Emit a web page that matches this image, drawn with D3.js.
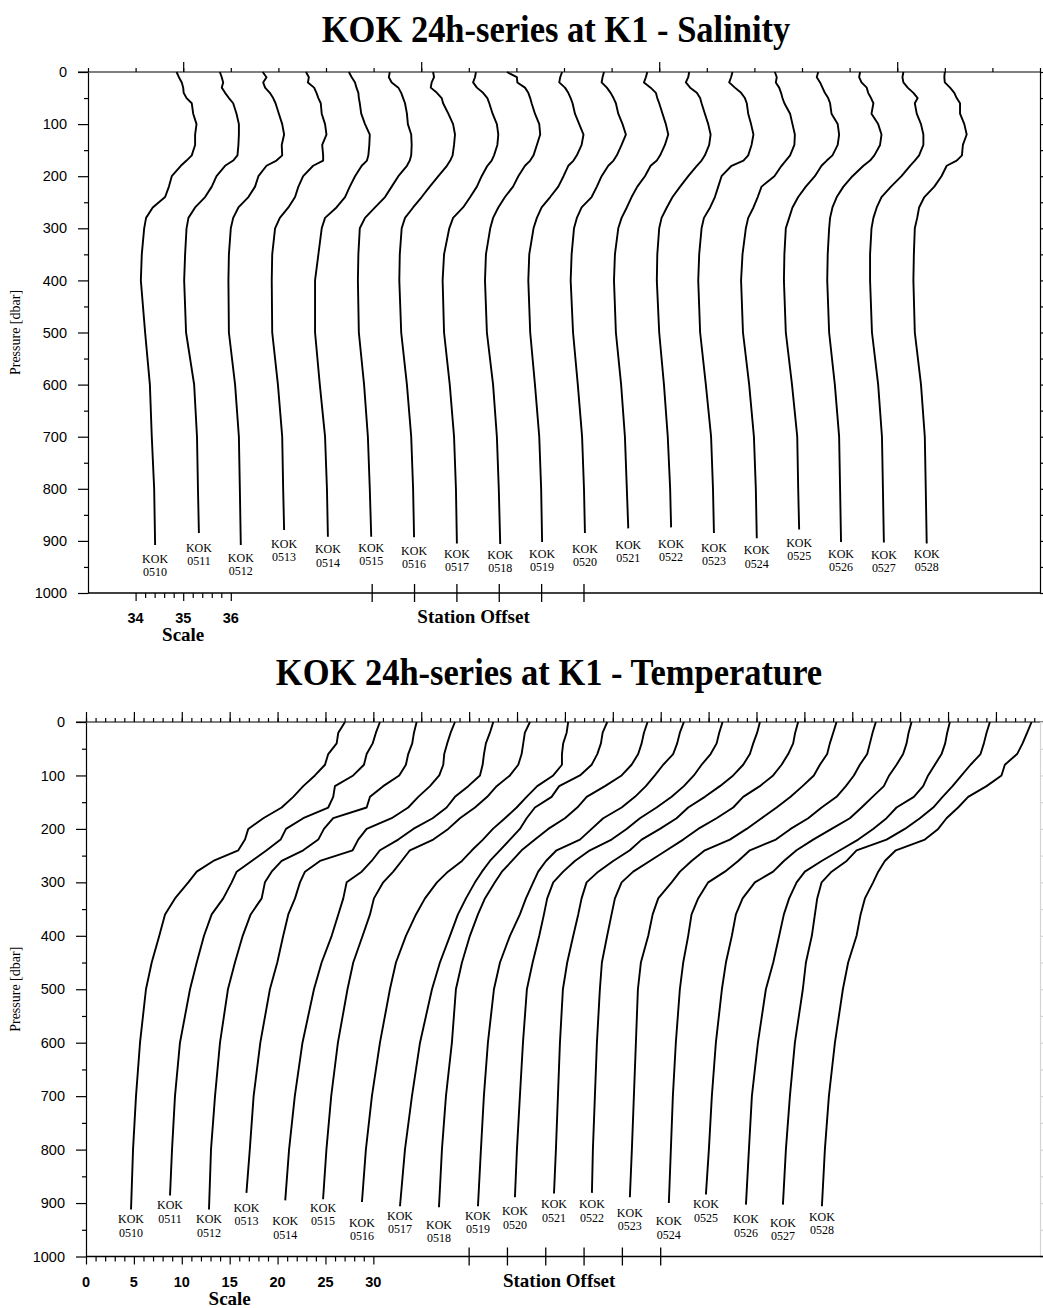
<!DOCTYPE html>
<html>
<head>
<meta charset="utf-8">
<script src="https://cdn.jsdelivr.net/npm/d3@7"></script>
<style>
  body { margin: 0; background: #fff; }
  svg { display: block; }
</style>
</head>
<body>
<svg id="fig" width="1043" height="1308"></svg>
<script>
// ---- stations of the 24h series at K1 ----
const stations = ["0510","0511","0512","0513","0514","0515","0516","0517","0518","0519",
                  "0520","0521","0522","0523","0524","0525","0526","0527","0528"];

// ---- salinity profiles (PSU); last value of each row is at that station's bottom pressure ----
const salPressure = [0,10,20,30,40,50,60,80,100,120,140,160,170,180,200,220,240,260,280,300,350,400,500,600,700,800];
const salBottom = [908,885,908,879,892,892,893,905,906,902,885,876,874,885,895,878,902,903,905];
const salinity = [
  [34.86,34.91,34.97,35.00,35.01,35.07,35.18,35.21,35.28,35.25,35.25,35.18,35.07,34.95,34.76,34.70,34.62,34.36,34.22,34.18,34.13,34.11,34.20,34.30,34.34,34.39,34.41],
  [34.87,34.91,34.94,34.91,34.98,35.06,35.15,35.22,35.27,35.27,35.26,35.24,35.15,34.98,34.80,34.70,34.56,34.35,34.21,34.17,34.14,34.12,34.16,34.33,34.39,34.41,34.43],
  [34.87,34.95,34.88,34.92,35.02,35.09,35.14,35.21,35.28,35.32,35.27,35.28,35.16,34.95,34.78,34.71,34.57,34.36,34.25,34.20,34.16,34.15,34.16,34.29,34.37,34.39,34.41],
  [34.88,34.94,34.92,35.05,35.10,35.14,35.19,35.21,35.28,35.31,35.22,35.24,35.24,35.03,34.82,34.72,34.65,34.51,34.33,34.23,34.17,34.16,34.17,34.29,34.38,34.40,34.42],
  [34.88,34.94,35.01,35.04,35.08,35.09,35.11,35.14,35.22,35.32,35.31,35.29,35.26,35.15,35.01,34.90,34.80,34.62,34.38,34.31,34.24,34.17,34.17,34.27,34.38,34.42,34.44],
  [34.84,34.82,34.88,35.02,35.08,35.12,35.16,35.20,35.22,35.29,35.30,35.29,35.26,35.20,35.02,34.88,34.74,34.53,34.32,34.21,34.18,34.17,34.19,34.30,34.38,34.42,34.45],
  [34.85,34.87,34.82,34.80,34.93,35.03,35.06,35.17,35.27,35.31,35.29,35.26,35.21,35.14,34.96,34.78,34.61,34.43,34.26,34.19,34.15,34.14,34.18,34.30,34.39,34.43,34.45],
  [34.85,34.83,34.79,34.87,35.00,35.09,35.13,35.20,35.29,35.32,35.30,35.23,35.18,35.09,34.97,34.87,34.73,34.58,34.37,34.29,34.18,34.15,34.18,34.30,34.39,34.43,34.45],
  [34.60,34.81,34.82,34.98,35.05,35.09,35.12,35.19,35.28,35.30,35.23,35.16,35.09,34.98,34.84,34.73,34.56,34.42,34.31,34.25,34.16,34.14,34.18,34.31,34.39,34.43,34.46],
  [34.86,34.82,34.80,34.92,34.99,35.04,35.08,35.13,35.22,35.31,35.27,35.17,35.10,34.99,34.89,34.78,34.61,34.43,34.33,34.26,34.17,34.15,34.19,34.29,34.38,34.42,34.44],
  [34.84,34.81,34.79,34.90,34.98,35.04,35.09,35.14,35.23,35.30,35.21,35.11,35.04,34.93,34.79,34.69,34.58,34.37,34.27,34.21,34.16,34.14,34.19,34.29,34.38,34.42,34.44],
  [34.85,34.82,34.78,34.92,35.03,35.06,35.10,35.17,35.24,35.29,35.22,35.12,35.05,34.92,34.80,34.64,34.52,34.42,34.31,34.24,34.17,34.15,34.19,34.30,34.38,34.42,34.45],
  [34.83,34.81,34.76,34.85,34.99,35.06,35.09,35.16,35.23,35.28,35.25,35.16,35.09,34.99,34.81,34.64,34.48,34.36,34.25,34.20,34.16,34.15,34.20,34.30,34.38,34.43,34.45],
  [34.84,34.81,34.77,34.89,35.02,35.10,35.14,35.17,35.23,35.28,35.24,35.17,35.07,34.82,34.61,34.54,34.47,34.37,34.24,34.19,34.14,34.12,34.16,34.28,34.39,34.43,34.45],
  [34.83,34.87,34.85,34.92,34.96,34.99,35.03,35.15,35.20,35.25,35.24,35.15,35.06,34.97,34.82,34.55,34.47,34.38,34.27,34.22,34.15,34.12,34.16,34.29,34.39,34.43,34.45],
  [34.84,34.81,34.88,34.93,34.98,35.05,35.09,35.12,35.25,35.28,35.25,35.14,35.02,34.91,34.77,34.58,34.42,34.30,34.23,34.16,34.13,34.12,34.16,34.29,34.40,34.42,34.44],
  [34.82,34.80,34.85,34.96,34.99,35.05,35.10,35.06,35.20,35.27,35.24,35.12,35.03,34.89,34.66,34.47,34.33,34.24,34.19,34.17,34.14,34.13,34.17,34.29,34.38,34.40,34.42],
  [34.83,34.81,34.83,34.92,35.04,35.13,35.07,35.11,35.20,35.25,35.25,35.16,35.07,34.97,34.79,34.57,34.37,34.27,34.20,34.16,34.13,34.13,34.17,34.30,34.38,34.40,34.42],
  [34.80,34.79,34.80,34.91,35.00,35.05,35.12,35.12,35.21,35.26,35.18,35.16,35.05,34.84,34.73,34.58,34.37,34.26,34.22,34.17,34.15,34.14,34.17,34.30,34.38,34.40,34.42]
];
const salStationOffset = 0.9;            // PSU added per successive station
const salScaleLabels = [34, 35, 36];
const salScaleMinor = [34.2,34.4,34.6,34.8,35.2,35.4,35.6,35.8];
const salOffsetTicks = [38.97, 39.86, 40.75, 41.64, 42.53, 43.42];
const salLabelDepth = [943,921,940,914,924,921,927,933,935,933,923,916,914,921,926,912,933,935,933];

// ---- temperature profiles (deg C); last value of each row is at that station's bottom pressure ----
const tempPressure = [0,20,40,60,80,100,120,140,160,180,200,220,240,260,280,300,330,360,400,450,500,600,700,800];
const tempBottom = [912,886,912,881,895,893,898,906,908,906,889,882,881,889,900,884,903,903,906];
const temperature = [
  [27.04,26.34,26.17,25.29,24.95,23.90,22.68,21.64,20.43,18.51,16.94,16.60,15.90,13.29,11.56,10.68,9.29,8.25,7.65,6.86,6.26,5.64,5.22,4.91,4.70],
  [26.69,26.27,25.93,25.30,25.02,23.90,21.99,21.81,21.29,18.68,16.88,16.32,14.86,13.30,11.73,11.21,10.33,9.12,8.32,7.56,6.86,5.81,5.29,4.98,4.77],
  [26.52,26.24,26.06,25.64,25.40,24.70,23.03,21.65,21.30,17.81,16.84,16.25,14.68,12.43,11.38,10.68,10.34,9.19,8.36,7.55,6.82,5.99,5.47,5.05,4.84],
  [26.52,26.07,25.71,25.40,25.30,24.88,23.91,22.69,21.64,19.91,17.30,16.42,15.84,12.43,10.86,10.34,9.82,9.12,8.59,7.97,7.20,6.20,5.50,5.10,4.75],
  [26.52,26.17,25.75,25.55,25.41,25.13,23.91,22.52,21.65,20.19,18.17,16.60,14.69,13.82,12.78,11.21,10.86,10.34,9.65,8.60,7.80,6.60,5.80,5.20,4.80],
  [26.35,25.82,25.65,25.48,25.13,24.26,22.87,21.89,20.61,19.04,17.82,16.25,13.82,12.95,12.08,11.03,10.06,9.65,8.88,7.90,7.30,6.30,5.60,5.10,4.75],
  [26.34,26.18,25.82,25.69,25.69,24.78,23.11,22.00,20.96,19.74,18.48,17.44,16.29,15.25,13.79,12.64,11.39,10.45,9.40,8.36,7.73,6.69,5.85,5.22,4.81],
  [26.42,25.94,25.76,25.38,24.79,23.57,21.40,20.61,18.87,18.00,17.30,16.26,15.21,14.17,13.34,12.61,11.67,10.83,10.00,8.95,8.12,6.87,6.03,5.30,4.78],
  [26.63,26.25,26.01,25.65,24.96,23.92,22.18,20.27,19.29,18.00,16.26,14.87,13.48,12.47,11.42,10.69,9.65,8.92,8.08,7.25,6.62,6.20,5.58,5.16,4.85],
  [26.42,26.00,25.72,25.30,24.26,23.39,22.45,21.31,19.92,18.00,16.79,15.57,13.13,12.02,11.21,10.69,9.93,9.30,8.26,7.22,6.59,5.96,5.54,5.23,4.92],
  [26.46,26.11,25.84,25.21,24.27,23.46,22.42,21.14,19.57,17.83,16.44,14.87,12.61,11.04,9.82,8.78,8.15,7.81,7.32,6.63,6.03,5.62,5.30,4.99,4.78],
  [26.36,26.07,25.66,25.31,24.61,23.57,22.18,20.61,18.87,17.66,15.92,14.01,12.78,11.04,9.48,8.26,7.74,7.39,6.87,6.24,5.79,5.48,5.27,5.06,4.86],
  [26.35,26.04,25.83,25.31,24.62,23.74,22.35,20.61,19.57,17.83,15.91,14.35,12.62,10.87,9.13,7.92,7.22,6.87,6.41,5.86,5.65,5.34,5.13,4.92,4.82],
  [26.36,26.01,25.66,25.38,24.62,23.99,22.81,21.56,20.10,18.53,16.97,15.22,12.61,11.22,10.01,9.14,7.74,7.16,6.70,5.93,5.62,5.41,5.20,4.99,4.78],
  [26.46,26.12,25.84,25.56,24.79,24.17,23.33,22.36,20.80,19.40,17.56,16.02,13.31,12.09,10.70,8.96,7.91,7.22,6.87,6.35,6.00,5.58,5.27,5.06,4.85],
  [26.19,25.88,25.67,25.31,24.62,23.85,23.30,22.12,20.97,19.75,17.84,15.92,14.18,12.86,11.74,9.83,8.55,7.85,7.43,6.81,6.39,5.76,5.34,5.03,4.72],
  [26.19,25.91,25.70,25.32,24.62,23.92,23.40,22.43,20.62,19.58,18.18,16.62,14.71,12.80,11.05,10.19,9.41,8.86,8.37,7.75,6.98,6.15,5.52,5.21,4.90],
  [26.37,26.02,25.74,25.39,24.35,23.41,22.47,21.43,20.45,19.06,17.49,15.58,12.45,11.41,9.84,8.80,8.34,8.10,7.78,7.16,6.84,6.01,5.49,5.07,4.76],
  [26.72,26.26,25.78,25.21,23.93,23.58,22.02,20.10,19.05,17.84,16.97,15.58,12.55,11.40,10.71,10.18,9.32,8.87,8.45,7.57,7.02,6.19,5.56,5.14,4.83]
];
const tempStationOffset = 4;             // deg C added per successive station
const tempScaleLabels = [0, 5, 10, 15, 20, 25, 30];
const tempScaleMinor = [1,2,3,4,6,7,8,9,11,12,13,14,16,17,18,19,21,22,23,24,26,27,28,29];
const tempOffsetTicks = [40, 44, 48, 52, 56, 60];
const tempLabelDepth = [938,912,938,917,942,917,945,931,948,931,923,910,910,926,942,910,938,945,933];

const pressureTicks = [0,100,200,300,400,500,600,700,800,900,1000];
const pressureMinor = [50,150,250,350,450,550,650,750,850,950];

// ---------------------------------------------------------------------------
const svg = d3.select("#fig");
const SERIF = "'Liberation Serif','Times New Roman',serif";
const SANS = "'Liberation Sans',Arial,sans-serif";

function text(g, x, y, str, o) {
  o = o || {};
  return g.append("text")
    .attr("transform", `translate(${x},${y})${o.rotate ? ` rotate(${o.rotate})` : ""} scale(1,${o.sy || 1})`)
    .attr("text-anchor", o.anchor || "middle")
    .attr("font-family", o.family || SERIF)
    .attr("font-size", o.size || 12)
    .attr("font-weight", o.weight || "normal")
    .attr("fill", "#000")
    .text(str);
}

// two-line station label: "KOK" over the station number
function stationLabel(g, x, y, num) {
  const t = g.append("text")
    .attr("transform", `translate(${x},${y}) scale(1,1.1)`)
    .attr("text-anchor", "middle")
    .attr("font-family", SERIF)
    .attr("font-size", 12)
    .attr("fill", "#000");
  t.append("tspan").attr("x", 0).attr("y", 0).text("KOK");
  t.append("tspan").attr("x", 0).attr("dy", 12).text(num);
}

function drawPanel(cfg) {
  const g = svg.append("g");
  const x = d3.scaleLinear().domain(cfg.xDomain).range([cfg.left, cfg.right]);
  const y = d3.scaleLinear().domain([0, 1000]).range([cfg.top, cfg.bottom]);

  // title
  text(g, cfg.titleX, cfg.titleY, cfg.title, { size: 34.5, weight: "bold", sy: 1.08 });

  // top axis: unit ticks, taller every fifth unit
  const topG = g.append("g").attr("transform", `translate(0,${cfg.top})`);
  topG.call(d3.axisTop(x).tickValues(cfg.topMinor).tickSize(cfg.topMinorLen).tickSizeOuter(0).tickFormat(""));
  topG.append("g").call(d3.axisTop(x).tickValues(cfg.topMajor).tickSize(10).tickSizeOuter(0).tickFormat(""))
      .select(".domain").remove();
  topG.select(".domain").attr("d", `M${cfg.left - 10},0H${cfg.topEnd}`);

  // left pressure axis
  const leftG = g.append("g").attr("transform", `translate(${cfg.left},0)`)
    .call(d3.axisLeft(y).tickValues(pressureTicks).tickSize(10).tickPadding(11).tickSizeOuter(0)
            .tickFormat(d3.format("d")));
  leftG.selectAll("text").attr("font-family", SANS).attr("font-size", 14.5);
  leftG.append("g").call(d3.axisLeft(y).tickValues(pressureMinor).tickSize(4).tickFormat(""))
       .select(".domain").remove();

  // right frame
  const rightG = g.append("g").attr("transform", `translate(${cfg.right},0)`)
    .call(d3.axisRight(y).tickValues(pressureMinor.concat(pressureTicks)).tickSize(3).tickSizeOuter(0).tickFormat(""));
  rightG.selectAll("path,line").attr("stroke", cfg.rightColor);

  // bottom line
  g.append("line").attr("x1", cfg.left).attr("x2", cfg.bottomEnd)
    .attr("y1", cfg.bottom).attr("y2", cfg.bottom).attr("stroke", "#000").attr("stroke-width", 1.3);

  // scale ticks below the bottom line
  const scG = g.append("g").attr("transform", `translate(0,${cfg.bottom})`);
  scG.call(d3.axisBottom(x).tickValues(cfg.scaleMinor).tickSize(5).tickFormat(""));
  scG.select(".domain").remove();
  scG.append("g").call(d3.axisBottom(x).tickValues(cfg.scaleLabels).tickSize(8).tickFormat(""))
     .select(".domain").remove();
  cfg.scaleLabels.forEach(v => text(g, x(v), cfg.bottom + 30, String(v), { family: SANS, size: 14.5, weight: "bold" }));
  text(g, x(cfg.scaleCenter), cfg.bottom + 48, "Scale", { size: 19, weight: "bold" });

  // station offset ticks crossing the bottom line
  g.selectAll(null).data(cfg.offsetTicks).join("line")
    .attr("x1", d => x(d)).attr("x2", d => x(d))
    .attr("y1", cfg.bottom - 9).attr("y2", cfg.bottom + 9)
    .attr("stroke", "#000").attr("stroke-width", 1.3);
  text(g, x(cfg.offsetLabelAt), cfg.bottom + 30, "Station Offset", { size: 19, weight: "bold" });

  // y-axis title
  text(g, 20, y(500), "Pressure [dbar]", { rotate: -90, size: 14 });

  // profiles
  const line = d3.line().x(d => x(d.v)).y(d => y(d.p));
  cfg.values.forEach((row, i) => {
    const ps = cfg.levels.concat([cfg.bottoms[i]]);
    const pts = row.map((v, j) => ({ p: ps[j], v: v + i * cfg.offset }));
    g.append("path").datum(pts).attr("d", line)
      .attr("fill", "none").attr("stroke", "#000").attr("stroke-width", 1.9)
      .attr("stroke-linejoin", "round");
    const last = pts[pts.length - 1];
    stationLabel(g, x(last.v), y(cfg.labelDepth[i]), stations[i]);
  });

  g.selectAll(".tick line, .domain").attr("stroke-width", 1.2);
}

drawPanel({
  title: "KOK 24h-series at K1 - Salinity", titleX: 556, titleY: 42,
  xDomain: [33, 53], left: 88, right: 1040, top: 72, bottom: 593,
  topMinor: d3.range(33, 54), topMajor: [35, 40, 45, 50], topMinorLen: 4, topEnd: 1040,
  bottomEnd: 1040, rightColor: "#000",
  scaleLabels: salScaleLabels, scaleMinor: salScaleMinor, scaleCenter: 35,
  offsetTicks: salOffsetTicks, offsetLabelAt: 41.1,
  levels: salPressure, bottoms: salBottom, values: salinity, offset: salStationOffset,
  labelDepth: salLabelDepth
});

drawPanel({
  title: "KOK 24h-series at K1 - Temperature", titleX: 549, titleY: 685,
  xDomain: [0, 99.6], left: 86, right: 1040, top: 722, bottom: 1256.5,
  topMinor: d3.range(0, 100), topMajor: d3.range(0, 100, 5), topMinorLen: 4, topEnd: 1043,
  bottomEnd: 1043, rightColor: "#d4d4d4",
  scaleLabels: tempScaleLabels, scaleMinor: tempScaleMinor, scaleCenter: 15,
  offsetTicks: tempOffsetTicks, offsetLabelAt: 49.4,
  levels: tempPressure, bottoms: tempBottom, values: temperature, offset: tempStationOffset,
  labelDepth: tempLabelDepth
});
</script>
</body>
</html>
